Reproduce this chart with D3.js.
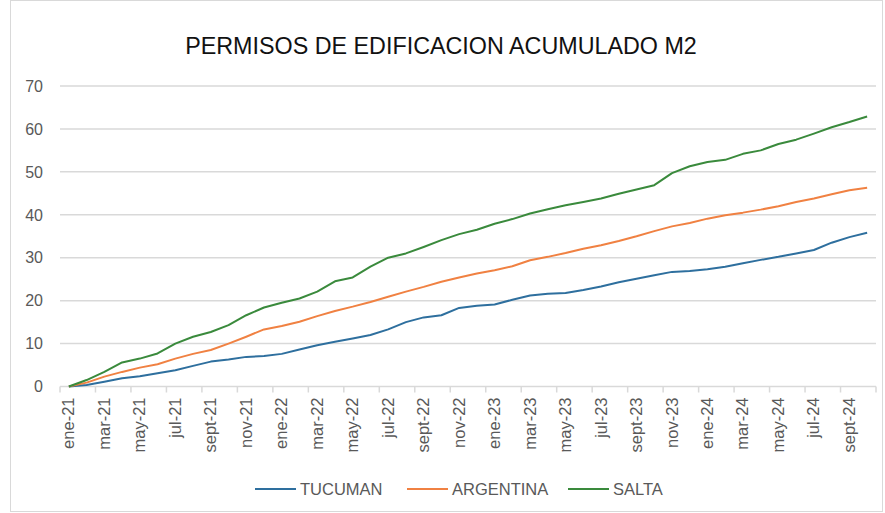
<!DOCTYPE html>
<html>
<head>
<meta charset="utf-8">
<script src="https://cdn.jsdelivr.net/npm/d3@7"></script>
<style>
  html, body { margin: 0; padding: 0; background: #fff; }
  svg { display: block; }
</style>
</head>
<body>
<svg id="chart" width="885" height="513"></svg>
<script>
// Monthly categories, Jan 2021 – Oct 2024
const months = ["ene-21","feb-21","mar-21","abr-21","may-21","jun-21","jul-21","ago-21","sept-21","oct-21","nov-21","dic-21",
                "ene-22","feb-22","mar-22","abr-22","may-22","jun-22","jul-22","ago-22","sept-22","oct-22","nov-22","dic-22",
                "ene-23","feb-23","mar-23","abr-23","may-23","jun-23","jul-23","ago-23","sept-23","oct-23","nov-23","dic-23",
                "ene-24","feb-24","mar-24","abr-24","may-24","jun-24","jul-24","ago-24","sept-24","oct-24"];

// Accumulated building permits (m2)
const tucuman = [0,0.35,1.1,1.9,2.4,3.1,3.8,4.8,5.8,6.3,6.9,7.1,
                 7.6,8.6,9.6,10.4,11.2,12.0,13.3,15.0,16.1,16.6,18.3,18.8,
                 19.1,20.2,21.2,21.6,21.8,22.5,23.3,24.3,25.1,25.9,26.7,26.9,
                 27.3,27.9,28.7,29.5,30.2,31.0,31.8,33.5,34.8,35.8];
const argentina = [0,0.9,2.3,3.4,4.4,5.2,6.5,7.6,8.5,10.0,11.6,13.3,
                   14.1,15.1,16.4,17.6,18.6,19.7,20.9,22.1,23.2,24.4,25.4,26.3,
                   27.1,28.0,29.4,30.2,31.1,32.1,32.9,33.9,35.0,36.2,37.3,38.1,
                   39.1,39.9,40.5,41.2,42.0,43.0,43.8,44.8,45.7,46.3];
const salta = [0,1.5,3.4,5.6,6.5,7.7,10.0,11.6,12.7,14.3,16.6,18.4,
               19.5,20.5,22.1,24.5,25.4,27.9,30.0,31.0,32.5,34.1,35.5,36.5,
               37.9,39.0,40.3,41.3,42.2,43.0,43.8,44.9,45.9,46.9,49.7,51.3,
               52.3,52.8,54.2,55.0,56.5,57.5,58.9,60.4,61.6,62.9];

const yTicks = [0,10,20,30,40,50,60,70];
const seriesNames = ["TUCUMAN","ARGENTINA","SALTA"];
const seriesColors = ["#2e6f9e","#f08142","#3a8a3c"];

const series = [tucuman, argentina, salta].map((vals, k) => ({
  name: seriesNames[k], color: seriesColors[k], values: vals
}));

const svg = d3.select("#chart");
const W = 885, H = 513;
const font = "Liberation Sans, Arial, sans-serif";
const textGrey = "#595959";
const gridGrey = "#d9d9d9";

// chart frame
svg.append("rect")
  .attr("x", 10.5).attr("y", 0.5).attr("width", W - 13).attr("height", H - 2)
  .attr("fill", "#fff").attr("stroke", "#d9d9d9").attr("stroke-width", 1);

const plot = { left: 60, right: 876, top: 86, bottom: 386.5 };

const x = d3.scaleBand().domain(months).range([plot.left, plot.right]).padding(0);
const y = d3.scaleLinear().domain([0, 70]).range([plot.bottom, plot.top]);
const cx = m => x(m) + x.bandwidth() / 2;

// title
const title = svg.append("text")
  .attr("x", 441).attr("y", 54)
  .attr("text-anchor", "middle")
  .attr("font-family", font)
  .attr("font-size", 22)
  .attr("fill", "#111")
  .text("PERMISOS DE EDIFICACION ACUMULADO M2");
const tw = title.node().getComputedTextLength();
title.attr("font-size", 22 * 512 / tw);

// horizontal gridlines
svg.append("g").selectAll("line").data(yTicks).join("line")
  .attr("x1", plot.left).attr("x2", plot.right)
  .attr("y1", d => y(d)).attr("y2", d => y(d))
  .attr("stroke", gridGrey).attr("stroke-width", 1.5);

// y axis labels
svg.append("g").selectAll("text").data(yTicks).join("text")
  .attr("x", 43).attr("y", d => y(d))
  .attr("dy", "0.36em")
  .attr("text-anchor", "end")
  .attr("font-family", font).attr("font-size", 16)
  .attr("fill", textGrey)
  .text(d => d);

// x axis tick marks at every second category boundary
const tickPos = months.filter((m, i) => i % 2 === 0).map(m => x(m)).concat([x.range()[1]]);
svg.append("g").selectAll("line").data(tickPos).join("line")
  .attr("x1", d => d).attr("x2", d => d)
  .attr("y1", plot.bottom).attr("y2", plot.bottom + 6)
  .attr("stroke", gridGrey).attr("stroke-width", 1.5);

// x axis labels, rotated
svg.append("g").selectAll("text")
  .data(months.filter((m, i) => i % 2 === 0))
  .join("text")
  .attr("transform", d => `translate(${cx(d) + 5.5},${plot.bottom + 11}) rotate(-90)`)
  .attr("text-anchor", "end")
  .attr("font-family", font).attr("font-size", 16.5)
  .attr("fill", textGrey)
  .text(d => d);

// series lines
const line = d3.line()
  .x((d, i) => cx(months[i]))
  .y(d => y(d));

svg.append("g").selectAll("path").data(series).join("path")
  .attr("d", d => line(d.values))
  .attr("fill", "none")
  .attr("stroke", d => d.color)
  .attr("stroke-width", 2)
  .attr("stroke-linejoin", "round");

// legend
const legendX = [255, 407, 568];
const lg = svg.append("g").selectAll("g").data(series).join("g")
  .attr("transform", (d, i) => `translate(${legendX[i]},489)`);
lg.append("line")
  .attr("x1", 0).attr("x2", 41).attr("y1", 0).attr("y2", 0)
  .attr("stroke", d => d.color).attr("stroke-width", 2);
lg.append("text")
  .attr("x", 45).attr("y", 0).attr("dy", "0.36em")
  .attr("font-family", font).attr("font-size", 16.5)
  .attr("fill", textGrey)
  .text(d => d.name);
</script>
</body>
</html>
